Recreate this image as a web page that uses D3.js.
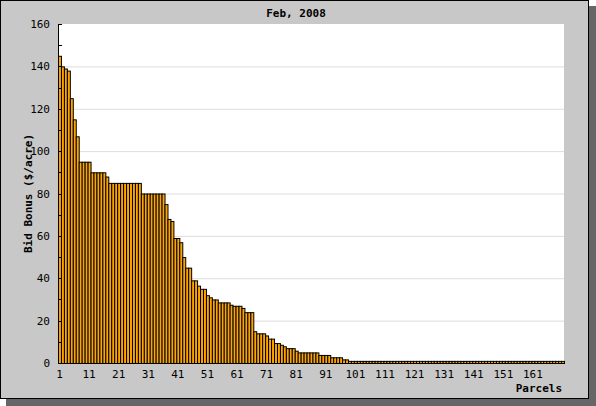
<!DOCTYPE html>
<html><head><meta charset="utf-8">
<script src="https://cdn.jsdelivr.net/npm/d3@7"></script>
<style>body{margin:0;background:#fff}text{font-family:"DejaVu Sans Mono",monospace;font-size:11px}</style>
</head><body><svg id="c" width="596" height="406"></svg>
<script>
// Bid bonus per parcel, sorted descending
const headValues = [145,140,139,138,125,115,107,95,95,95,95,90,90,90,90,90,88,
  85,85,85,85,85,85,85,85,85,85,85,80,80,80,80,80,80,80,80,75,68,67,59,59,57,50,45,45,39,39,36.5,35,35,
  32,31,30,30,28.6,28.6,28.6,28.6,27.5,27,27,27,26,24,24,24,15,14,14,14,13,11.5,11.5,9.4,9.4,8.6,7.9,7,7,7,
  5.8,5,5,5,5,5,5,5,3.8,3.8,3.8,3.8,2.7,2.7,2.7,2.7,1.7,1.7];
const tailCount = 73;
const tailValue = 1;
const values = headValues.concat(Array(tailCount).fill(tailValue));
const parcels = values.map((d, i) => i + 1);
const xTickLabels = d3.range(1, 171, 10);
const yTicks = d3.range(0, 161, 20);

const svg = d3.select("#c");
const plot = {left: 58, right: 564, top: 24, bottom: 363};

// frame with shadow
svg.append("rect").attr("x", 6).attr("y", 6).attr("width", 590).attr("height", 400).attr("fill", "#666");
svg.append("rect").attr("x", 0.5).attr("y", 0.5).attr("width", 588).attr("height", 398)
  .attr("fill", "#c8c8c8").attr("stroke", "#000");

const x = d3.scaleBand().domain(parcels).range([plot.left, plot.right]).padding(0);
const y = d3.scaleLinear().domain([0, 160]).range([plot.bottom, plot.top]);

svg.append("rect").attr("x", plot.left).attr("y", plot.top)
  .attr("width", plot.right - plot.left).attr("height", plot.bottom - plot.top).attr("fill", "#fff");

svg.append("g").selectAll("line").data(yTicks.slice(1, -1)).join("line")
  .attr("x1", plot.left).attr("x2", plot.right)
  .attr("y1", d => y(d) + 0.5).attr("y2", d => y(d) + 0.5)
  .attr("stroke", "#ddd");

svg.append("g").selectAll("rect").data(values).join("rect")
  .attr("x", (d, i) => x(i + 1) + 0.5)
  .attr("y", d => y(d) + 0.5)
  .attr("width", x.bandwidth())
  .attr("height", d => y(0) - y(d))
  .attr("fill", "#ffa500").attr("stroke", "#000").attr("stroke-width", 1);

// y axis: minor ticks inside
svg.append("g").selectAll("line").data(d3.range(0, 161, 10)).join("line")
  .attr("x1", plot.left).attr("x2", plot.left + 4)
  .attr("y1", d => Math.round(y(d)) + 0.5).attr("y2", d => Math.round(y(d)) + 0.5)
  .attr("stroke", "#000");
svg.append("line").attr("x1", plot.left + 0.5).attr("x2", plot.left + 0.5)
  .attr("y1", plot.top).attr("y2", plot.bottom).attr("stroke", "#000");
svg.append("line").attr("x1", plot.left).attr("x2", plot.right)
  .attr("y1", plot.bottom + 0.5).attr("y2", plot.bottom + 0.5).attr("stroke", "#000");

svg.append("g").selectAll("text").data(yTicks).join("text")
  .attr("x", plot.left - 8).attr("y", d => y(d) + 4).attr("text-anchor", "end").text(d => d);

svg.append("g").selectAll("text").data(xTickLabels).join("text")
  .attr("x", d => x(d) + x.bandwidth() / 2).attr("y", plot.bottom + 15)
  .attr("text-anchor", "middle").text(d => d);

svg.append("text").attr("x", 296).attr("y", 17).attr("text-anchor", "middle")
  .attr("font-weight", "bold").text("Feb, 2008");
svg.append("text").attr("x", plot.right - 2).attr("y", 392).attr("text-anchor", "end")
  .attr("font-weight", "bold").text("Parcels");
svg.append("text").attr("transform", "translate(32," + (plot.top + plot.bottom) / 2 + ") rotate(-90)")
  .attr("text-anchor", "middle").attr("font-weight", "bold").text("Bid Bonus ($/acre)");
</script></body></html>
